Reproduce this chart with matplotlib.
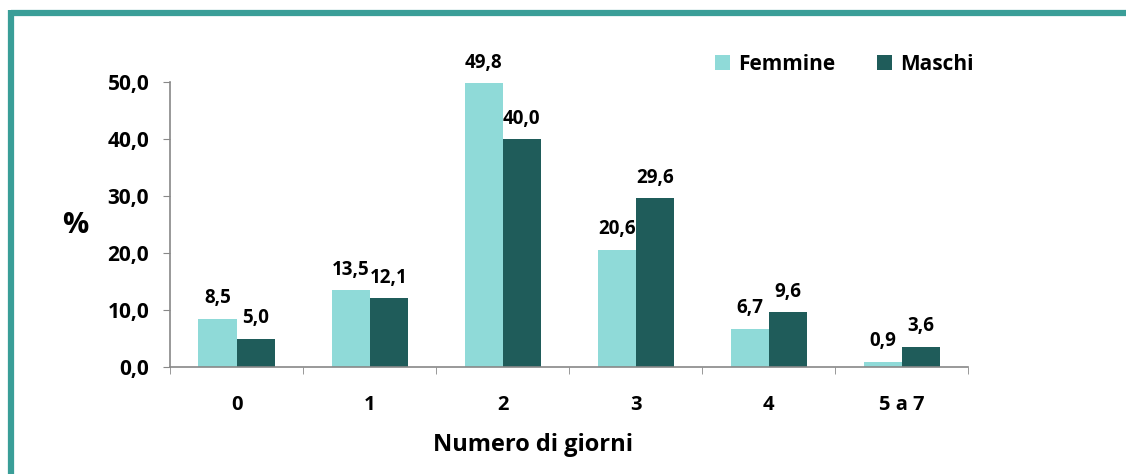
import numpy as np
import matplotlib.pyplot as plt
from matplotlib.lines import Line2D

categories = ['0', '1', '2', '3', '4', '5 a 7']
femmine = [8.5, 13.5, 49.8, 20.6, 6.7, 0.9]
maschi = [5.0, 12.1, 40.0, 29.6, 9.6, 3.6]
yticks = [0, 10, 20, 30, 40, 50]

plt.rcParams['font.family'] = ['Open Sans', 'DejaVu Sans']
plt.rcParams['font.weight'] = 'bold'

c_f = '#8FDAD8'
c_m = '#1F5C5A'
teal = '#3A9E98'

fig = plt.figure(figsize=(11.26, 4.74), dpi=100)
ax = fig.add_axes([0.151, 0.2257, 0.709, 0.601])

x = np.arange(len(categories))
w = 0.286
bf = ax.bar(x - w / 2, femmine, w, color=c_f, label='Femmine')
bm = ax.bar(x + w / 2, maschi, w, color=c_m, label='Maschi')

def fmt(v):
    return f'{v:.1f}'.replace('.', ',')

for bars, vals in ((bf, femmine), (bm, maschi)):
    for b, v in zip(bars, vals):
        ax.annotate(fmt(v), (b.get_x() + b.get_width() / 2, v),
                    xytext=(0, 7.5), textcoords='offset points',
                    ha='center', va='bottom', fontsize=13.5, fontweight='bold')

ax.set_xlim(-0.5, len(categories) - 0.5)
ax.set_ylim(0, 50)
ax.set_yticks(yticks)
ax.set_yticklabels([fmt(v) for v in yticks], fontsize=15, fontweight='bold')
ax.set_xticks(x)
ax.set_xticklabels(categories, fontsize=14.5, fontweight='bold')
ax.set_xticks(np.arange(len(categories) + 1) - 0.5, minor=True)
ax.tick_params(axis='x', which='major', length=0, pad=20)
ax.tick_params(axis='x', which='minor', length=5, color='#888888', direction='out')
ax.tick_params(axis='y', length=5, color='#888888', direction='out', pad=10)

for s in ['top', 'right']:
    ax.spines[s].set_visible(False)
for s in ['left', 'bottom']:
    ax.spines[s].set_color('#888888')
    ax.spines[s].set_linewidth(1.2)

fig.text(0.473, 0.062, 'Numero di giorni', fontsize=17, fontweight='bold',
         ha='center', va='center')
fig.text(0.067, 0.525, '%', fontsize=21, fontweight='bold', ha='center', va='center')

ax.legend(loc='upper right', bbox_to_anchor=(1.03, 1.165), ncol=2, frameon=False,
          prop={'weight': 'bold', 'size': 15}, handlelength=0.7,
          handleheight=0.7, handletextpad=0.4, columnspacing=2.0)

# teal frame (top and left)
fig.add_artist(Line2D([0.0098, 1.0], [0.973, 0.973], color=teal, lw=4.5,
                      transform=fig.transFigure, solid_capstyle='butt'))
fig.add_artist(Line2D([0.0098, 0.0098], [0.0, 0.978], color=teal, lw=4.5,
                      transform=fig.transFigure, solid_capstyle='butt'))

fig.savefig('out.png', dpi=100)
